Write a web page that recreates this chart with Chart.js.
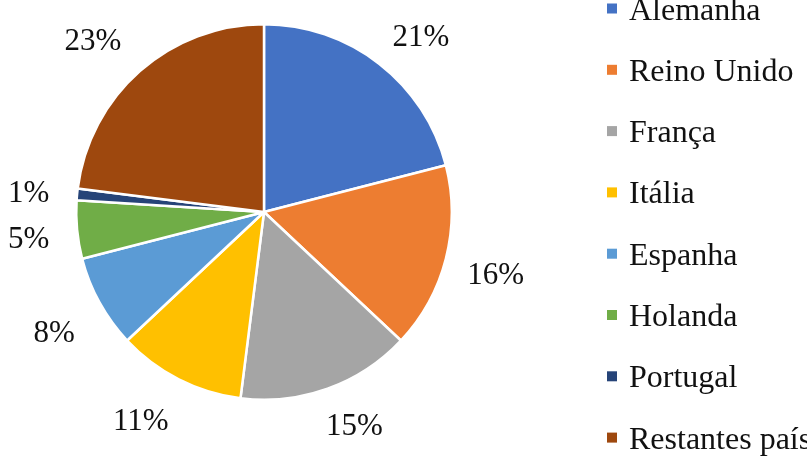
<!DOCTYPE html>
<html>
<head>
<meta charset="utf-8">
<script src="https://cdn.jsdelivr.net/npm/chart.js@4/dist/chart.umd.min.js"></script>
<style>
  html, body { margin: 0; padding: 0; background: #ffffff; overflow: hidden; }
  #wrap { position: relative; width: 807px; height: 459px; }
</style>
</head>
<body>
<div id="wrap"><canvas id="c" width="807" height="459"></canvas></div>
<script>
const categories = ['Alemanha', 'Reino Unido', 'França', 'Itália', 'Espanha', 'Holanda', 'Portugal', 'Restantes países'];
const shares = [21, 16, 15, 11, 8, 5, 1, 23];
const sliceColors = ['#4472C4', '#ED7D31', '#A5A5A5', '#FFC000', '#5B9BD5', '#70AD47', '#264478', '#9E480E'];

const TEXT_COLOR = '#111111';
const SERIF = "'Liberation Serif', 'Times New Roman', serif";

const outsideLabels = {
  id: 'outsideLabels',
  afterDatasetsDraw(chart) {
    const ctx = chart.ctx;
    const meta = chart.getDatasetMeta(0);
    const total = shares.reduce((a, b) => a + b, 0);
    ctx.save();
    ctx.font = '31px ' + SERIF;
    ctx.fillStyle = TEXT_COLOR;
    ctx.textAlign = 'center';
    ctx.textBaseline = 'middle';
    const clamp = v => Math.max(-1, Math.min(1, v));
    meta.data.forEach((arc, i) => {
      const p = arc.getProps(['x', 'y', 'startAngle', 'endAngle', 'outerRadius'], true);
      const mid = (p.startAngle + p.endAngle) / 2;
      const txt = Math.round(shares[i] / total * 100) + '%';
      const w = ctx.measureText(txt).width;
      const h = 22;
      const c = Math.cos(mid), s = Math.sin(mid);
      const r = p.outerRadius + 22 + (c < 0 ? 6 : 0);
      const x = p.x + c * r + (w / 2) * clamp(c * 2);
      const y = p.y + s * r + (h / 2 + 2) * clamp(s * 2) + 5;
      ctx.fillText(txt, x, y);
    });
    ctx.restore();
  }
};

const sideLegend = {
  id: 'sideLegend',
  afterDraw(chart) {
    const ctx = chart.ctx;
    const labels = chart.data.labels;
    const colors = chart.data.datasets[0].backgroundColor;
    ctx.save();
    ctx.font = '32px ' + SERIF;
    ctx.textAlign = 'left';
    ctx.textBaseline = 'alphabetic';
    const x0 = 607, first = 8.5, step = 61.3;
    labels.forEach((lab, i) => {
      const cy = first + i * step;
      ctx.fillStyle = colors[i];
      ctx.fillRect(x0, cy - 5, 10, 10);
      ctx.fillStyle = TEXT_COLOR;
      ctx.fillText(lab, x0 + 22, cy + 11);
    });
    ctx.restore();
  }
};

new Chart(document.getElementById('c'), {
  type: 'pie',
  data: {
    labels: categories,
    datasets: [{
      data: shares,
      backgroundColor: sliceColors,
      borderColor: '#ffffff',
      borderWidth: 2.5
    }]
  },
  options: {
    responsive: false,
    animation: false,
    events: [],
    layout: { padding: { left: 75, right: 354, top: 23, bottom: 58 } },
    plugins: {
      legend: { display: false },
      tooltip: { enabled: false }
    }
  },
  plugins: [outsideLabels, sideLegend]
});
</script>
</body>
</html>
